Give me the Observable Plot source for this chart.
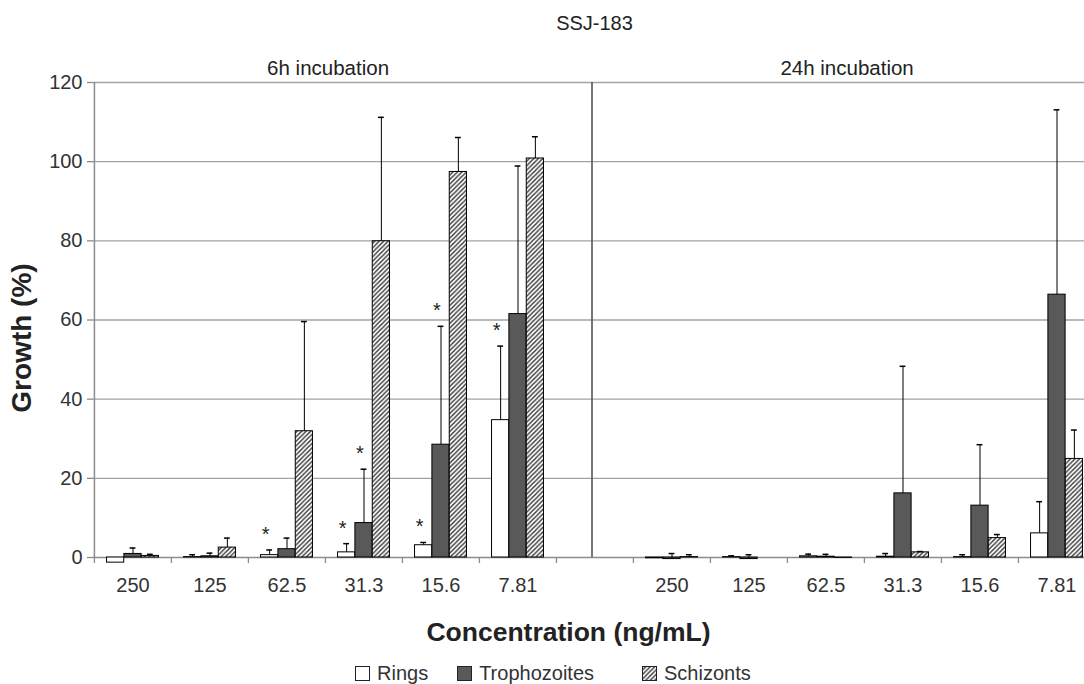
<!DOCTYPE html>
<html><head><meta charset="utf-8">
<script src="https://cdn.jsdelivr.net/npm/d3@7"></script>
<script src="https://cdn.jsdelivr.net/npm/@observablehq/plot@0.6"></script>
<style>
html,body{margin:0;padding:0;background:#fff;overflow:hidden;width:1084px;height:684px}
body{font-family:Arial,"Liberation Sans",sans-serif;color:#333}
#title{margin-left:93px;width:1003px;height:45px;line-height:46px;text-align:center;font-size:20px;color:#222}
#legend{display:flex;align-items:center;padding-left:355px;padding-top:12px;height:22px;line-height:22px;font-size:20px;color:#333}
.item{display:flex;align-items:center}
.item svg{margin-right:7px}
</style>
</head><body>
<svg width="0" height="0" style="position:absolute"><defs>
<pattern id="hatch" patternUnits="userSpaceOnUse" width="4.5" height="4.5">
<rect width="4.5" height="4.5" fill="white"/>
<path d="M-1,1 l2,-2 M0,4.5 l4.5,-4.5 M3.5,5.5 l2,-2" stroke="#333" stroke-width="1.4"/>
</pattern></defs></svg>
<div id="title"></div>
<div id="chart"></div>
<div id="legend"></div>
<script>
const title = "SSJ-183";
const panels = ["6h", "24h"];
const panelTitles = ["6h incubation", "24h incubation"];
const concentrations = ["250", "125", "62.5", "31.3", "15.6", "7.81"];
const series = ["Rings", "Trophozoites", "Schizonts"];
const seriesFill = ["white", "#595959", "url(#hatch)"];
const yTicks = [0, 20, 40, 60, 80, 100, 120];
const xTitle = "Concentration (ng/mL)";
const yTitle = "Growth (%)";

// 6h incubation
const rings6 = [-1.3, 0.1, 0.6, 1.3, 3.1, 34.7];
const rings6Err = [0, 0.6, 1.3, 2.2, 0.7, 18.7];
const troph6 = [0.9, 0.3, 2.1, 8.7, 28.5, 61.5];
const troph6Err = [1.5, 0.8, 2.8, 13.6, 29.9, 37.4];
const schiz6 = [0.4, 2.5, 31.9, 79.9, 97.4, 100.8];
const schiz6Err = [0.4, 2.4, 27.7, 31.3, 8.7, 5.5];
// 24h incubation
const rings24 = [-0.2, 0.1, 0.3, 0.2, 0.1, 6.1];
const rings24Err = [0, 0.33, 0.55, 0.8, 0.6, 8.0];
const troph24 = [-0.4, -0.4, 0.2, 16.2, 13.1, 66.4];
const troph24Err = [1.4, 1.1, 0.6, 32.1, 15.4, 46.7];
const schiz24 = [0.1, 0, -0.1, 1.3, 4.9, 24.9];
const schiz24Err = [0.6, 0, 0, 0.2, 0.9, 7.3];

// significance markers (panel, concentration, series)
const asterisks = [
  ["6h", "62.5", "Rings"], ["6h", "31.3", "Rings"], ["6h", "31.3", "Trophozoites"],
  ["6h", "15.6", "Rings"], ["6h", "15.6", "Trophozoites"], ["6h", "7.81", "Rings"]
];

const values = {
  "6h": [[rings6, rings6Err], [troph6, troph6Err], [schiz6, schiz6Err]],
  "24h": [[rings24, rings24Err], [troph24, troph24Err], [schiz24, schiz24Err]]
};

const domain = [
  ...concentrations.map(c => `6h|${c}`), "sep", ...concentrations.map(c => `24h|${c}`)
];

const rows = [];
for (const p of panels) {
  series.forEach((s, si) => {
    const [v, e] = values[p][si];
    concentrations.forEach((c, ci) => {
      rows.push({key: `${p}|${c}`, panel: p, conc: c, series: s, value: v[ci], err: e[ci], top: v[ci] + e[ci]});
    });
  });
}
const starRows = asterisks.map(([p, c, s]) => rows.find(r => r.panel === p && r.conc === c && r.series === s));

const W = 1084, H = 605, mL = 93, mR = -12, mT = 37, mB = 93;
const step = (W - mL - mR) / domain.length;
const barW = step * 0.225;
const inset = (step - barW) / 2;
const capInset = (step - 6) / 2;

const marks = [
  Plot.ruleY(yTicks.filter(t => t > 0), {stroke: "#a3a3a3", strokeWidth: 1.3}),
  Plot.ruleY([0], {stroke: "#8c8c8c", strokeWidth: 1.3}),
  Plot.ruleX([domain[0]], {dx: -step / 2, stroke: "#8c8c8c", strokeWidth: 1.5}),
  Plot.ruleX(["sep"], {dx: -3, stroke: "#555", strokeWidth: 1.6}),
  Plot.axisY({ticks: yTicks, tickSize: 6, tickFormat: () => "", stroke: "#8c8c8c", strokeWidth: 1.3, label: null}),
  Plot.axisY({ticks: yTicks, tickSize: 0, tickPadding: 11, fontSize: 20, fill: "#333", label: null}),
  Plot.axisX({ticks: domain, tickSize: 6, dx: -step / 2, tickFormat: () => "", stroke: "#8c8c8c", strokeWidth: 1.3, label: null}),
  Plot.axisX({ticks: domain.filter(d => d !== "sep"), tickSize: 0, tickPadding: 20, fontSize: 20, fill: "#333",
    tickFormat: d => d.split("|")[1], label: null})
];

series.forEach((s, si) => {
  const off = (si - 1) * barW;
  const data = rows.filter(r => r.series === s);
  marks.push(Plot.barY(data, {x: "key", y: "value", insetLeft: inset, insetRight: inset, dx: off,
    fill: seriesFill[si], stroke: "#000", strokeWidth: 1}));
  const errs = data.filter(r => r.err > 0);
  marks.push(Plot.ruleX(errs, {x: "key", y1: "value", y2: "top", dx: off, stroke: "#000", strokeWidth: 1}));
  marks.push(Plot.tickY(errs, {x: "key", y: "top", dx: off, insetLeft: capInset, insetRight: capInset, stroke: "#000", strokeWidth: 1.5}));
  const stars = starRows.filter(r => r.series === s);
  marks.push(Plot.text(stars, {x: "key", y: "top", text: () => "*", fontSize: 20,
    dx: off - 4, dy: -9, lineAnchor: "bottom", fill: "#222"}));
});

marks.push(Plot.text([panelTitles[0]], {x: () => `6h|${concentrations[2]}`, text: d => d, frameAnchor: "top",
  lineAnchor: "middle", dx: step / 2 + 2.5, dy: -14, fontSize: 20.5, fill: "#222"}));
marks.push(Plot.text([panelTitles[1]], {x: () => `24h|${concentrations[2]}`, text: d => d, frameAnchor: "top",
  lineAnchor: "middle", dx: step / 2 - 17.5, dy: -14, fontSize: 20.5, fill: "#222"}));
marks.push(Plot.text([yTitle], {text: d => d, frameAnchor: "left", textAnchor: "middle", lineAnchor: "middle",
  rotate: -90, dx: -71, dy: 18, fontSize: 28, fontWeight: "bold", fill: "#222"}));
marks.push(Plot.text([xTitle], {text: d => d, frameAnchor: "bottom", textAnchor: "middle", lineAnchor: "middle",
  dx: -26.5, dy: 75, fontSize: 26.5, fontWeight: "bold", fill: "#222"}));

const chart = Plot.plot({
  width: W, height: H,
  marginLeft: mL, marginRight: mR, marginTop: mT, marginBottom: mB,
  style: {fontFamily: "Arial, 'Liberation Sans', sans-serif", fontSize: "20px", color: "#333", overflow: "hidden"},
  x: {domain, padding: 0, axis: null},
  y: {domain: [0, 120], axis: null},
  marks
});
document.getElementById("chart").appendChild(chart);
document.getElementById("title").textContent = title;

const legend = document.getElementById("legend");
const gaps = [29, 48, 0];
series.forEach((s, si) => {
  const item = document.createElement("div");
  item.className = "item";
  item.style.marginRight = gaps[si] + "px";
  item.innerHTML = `<svg width="15" height="15"><rect x="0.5" y="0.5" width="14" height="14" fill="${seriesFill[si]}" stroke="#222" stroke-width="1"/></svg><span>${s}</span>`;
  legend.appendChild(item);
});
</script>
</body></html>
